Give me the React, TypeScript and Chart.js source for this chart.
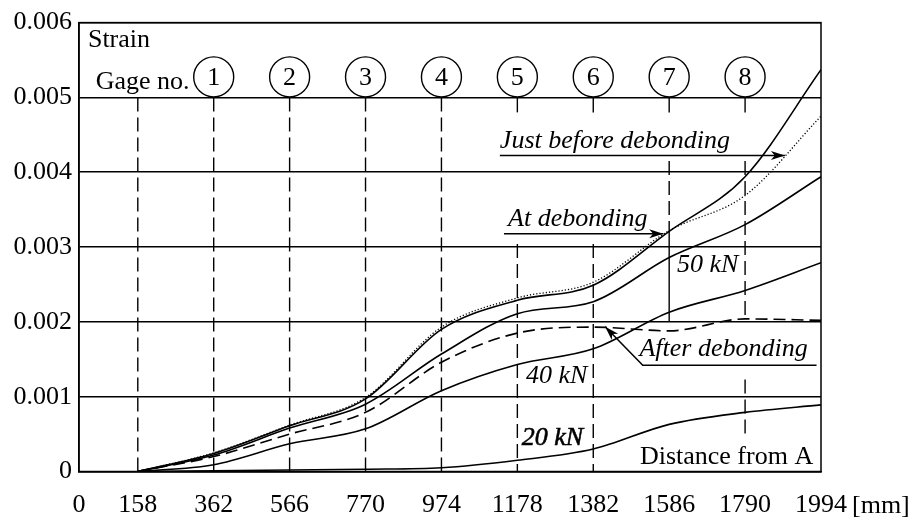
import React, { useEffect, useRef } from "react";
import { Chart, registerables } from "chart.js";

Chart.register(...registerables);

// Gage locations along the member (mm from A) and the axis ticks
const gagePositions = [158, 362, 566, 770, 974, 1178, 1382, 1586, 1790, 1994];
const xTickValues = [0, 158, 362, 566, 770, 974, 1178, 1382, 1586, 1790, 1994];
const yTickValues = [0, 0.001, 0.002, 0.003, 0.004, 0.005, 0.006];
const gageNumbers = [1, 2, 3, 4, 5, 6, 7, 8];
const gageNumberPositions = [362, 566, 770, 974, 1178, 1382, 1586, 1790];

// Measured strain at each gage location
const strainAtDebonding = [0, 0.00024, 0.00061, 0.00097, 0.0019, 0.00229, 0.00249, 0.00321, 0.00394, 0.00537];
const strainJustBefore = [0, 0.00025, 0.00062, 0.00099, 0.00193, 0.00232, 0.00253, 0.00322, 0.00369, 0.00475];
const strain50kN = [0, 0.00022, 0.00058, 0.0009, 0.00157, 0.00211, 0.00227, 0.00286, 0.0033, 0.00394];
const strainAfterDebonding = [0, 0.0002, 0.0005, 0.00079, 0.00146, 0.00185, 0.00193, 0.00188, 0.00204, 0.00202];
const strain40kN = [0, 0.00009, 0.00037, 0.00057, 0.00108, 0.00143, 0.00164, 0.00213, 0.00242, 0.00279];
const strain20kN = [0, 0.00001, 0.00002, 0.00003, 0.00005, 0.00015, 0.0003, 0.00063, 0.00079, 0.00089];

const FONT = "'Liberation Serif', 'Times New Roman', serif";
const FONT_SIZE = 26;

// Vertical reference lines at the gages: [x, fromStrain, toStrain, dashed]
const gageLines: [number, number, number, boolean][] = [
  [158, 0.005, 0, true],
  [362, 0.005, 0, true],
  [566, 0.005, 0, true],
  [770, 0.005, 0, true],
  [974, 0.005, 0, true],
  [1178, 0.005, 0.0048, false],
  [1178, 0.00304, 0, true],
  [1382, 0.005, 0.0048, false],
  [1382, 0.00304, 0, true],
  [1586, 0.005, 0.0048, false],
  [1586, 0.00415, 0.00321, true],
  [1586, 0.00321, 0.002, false],
  [1790, 0.005, 0.0048, false],
  [1790, 0.00415, 0.002, true],
  [1790, 0.00123, 0.00046, true],
];

function toPoints(values: number[]) {
  return values.map((y, i) => ({ x: gagePositions[i], y }));
}

function arrowHead(ctx: CanvasRenderingContext2D, fx: number, fy: number, tx: number, ty: number) {
  const a = Math.atan2(ty - fy, tx - fx);
  const len = 14;
  const half = 4.5;
  ctx.save();
  ctx.translate(tx, ty);
  ctx.rotate(a);
  ctx.beginPath();
  ctx.moveTo(0, 0);
  ctx.lineTo(-len, -half);
  ctx.lineTo(-len * 0.72, 0);
  ctx.lineTo(-len, half);
  ctx.closePath();
  ctx.fill();
  ctx.restore();
}

const decorations = {
  id: "strainDecor",
  beforeDatasetsDraw(chart: any) {
    const { ctx, chartArea } = chart;
    const xs = chart.scales.x;
    const ys = chart.scales.y;
    ctx.save();
    ctx.strokeStyle = "#000";
    ctx.lineWidth = 1.4;
    for (const [x, y0, y1, dashed] of gageLines) {
      const px = xs.getPixelForValue(x);
      ctx.setLineDash(dashed ? [14, 6] : []);
      ctx.beginPath();
      ctx.moveTo(px, ys.getPixelForValue(y0));
      ctx.lineTo(px, ys.getPixelForValue(y1));
      ctx.stroke();
    }
    ctx.setLineDash([]);
    ctx.restore();
  },
  afterDraw(chart: any) {
    const { ctx, chartArea } = chart;
    const xs = chart.scales.x;
    const ys = chart.scales.y;
    const X = (v: number) => xs.getPixelForValue(v);
    const Y = (v: number) => ys.getPixelForValue(v);
    ctx.save();
    ctx.strokeStyle = "#000";
    ctx.fillStyle = "#000";

    // frame
    ctx.lineWidth = 1.5;
    ctx.strokeRect(chartArea.left, chartArea.top, chartArea.right - chartArea.left, chartArea.bottom - chartArea.top);

    const upright = `${FONT_SIZE}px ${FONT}`;
    const italic = `italic ${FONT_SIZE}px ${FONT}`;
    ctx.textBaseline = "alphabetic";
    ctx.textAlign = "left";

    // axis captions
    ctx.font = upright;
    ctx.fillText("Strain", X(24), Y(0.00567));
    ctx.fillText("Gage no.", X(45), Y(0.005116));
    ctx.textAlign = "right";
    ctx.fillText("Distance from A", X(1973), Y(0.000099));
    ctx.textAlign = "left";
    ctx.fillText("[mm]", X(1994) + 31, chartArea.bottom + 41.5);

    // gage number circles
    ctx.lineWidth = 1.4;
    ctx.textAlign = "center";
    ctx.textBaseline = "middle";
    gageNumbers.forEach((n, i) => {
      const cx = X(gageNumberPositions[i]);
      const cy = Y(0.005274);
      ctx.beginPath();
      ctx.arc(cx, cy, 20, 0, Math.PI * 2);
      ctx.stroke();
      ctx.fillText(String(n), cx, cy + 1);
    });

    // curve labels
    ctx.textAlign = "left";
    ctx.textBaseline = "alphabetic";
    ctx.font = italic;
    ctx.fillText("Just before debonding", X(1131), Y(0.004323));
    ctx.fillText("At debonding", X(1153), Y(0.003281));
    ctx.fillText("50 kN", X(1607), Y(0.00266));
    ctx.fillText("40 kN", X(1201), Y(0.001182));
    ctx.fillText("After debonding", X(1506), Y(0.001545));
    ctx.lineWidth = 0.6;
    ctx.fillText("20 kN", X(1190), Y(0.00035));
    ctx.strokeText("20 kN", X(1190), Y(0.00035));

    // leader lines with arrows
    ctx.lineWidth = 1.5;
    const lines: [number, number, number, number][] = [
      [1131, 0.004222, 1897, 0.004222],
      [1142, 0.003179, 1570, 0.003179],
    ];
    for (const [x0, y0, x1, y1] of lines) {
      ctx.beginPath();
      ctx.moveTo(X(x0), Y(y0));
      ctx.lineTo(X(x1), Y(y1));
      ctx.stroke();
      arrowHead(ctx, X(x0), Y(y0), X(x1), Y(y1));
    }
    ctx.beginPath();
    ctx.moveTo(X(1982), Y(0.001419));
    ctx.lineTo(X(1515), Y(0.001419));
    ctx.lineTo(X(1414), Y(0.001934));
    ctx.stroke();
    arrowHead(ctx, X(1515), Y(0.001419), X(1414), Y(0.001934));

    ctx.restore();
  },
};

export default function App() {
  const canvasRef = useRef<HTMLCanvasElement>(null);

  useEffect(() => {
    const canvas = canvasRef.current;
    if (!canvas) return;
    const line = (data: number[], dash: number[], width = 1.6) => ({
      data: toPoints(data),
      borderColor: "#000",
      borderWidth: width,
      borderDash: dash,
      pointRadius: 0,
      fill: false,
      cubicInterpolationMode: "monotone" as const,
    });
    const chart = new Chart(canvas, {
      type: "line",
      data: {
        datasets: [
          { label: "20 kN", ...line(strain20kN, []) },
          { label: "40 kN", ...line(strain40kN, []) },
          { label: "After debonding", ...line(strainAfterDebonding, [12, 6]) },
          { label: "50 kN", ...line(strain50kN, []) },
          { label: "Just before debonding", ...line(strainJustBefore, [1.2, 2], 1.3) },
          { label: "At debonding", ...line(strainAtDebonding, []) },
        ],
      },
      options: {
        animation: false,
        responsive: false,
        devicePixelRatio: 1,
        layout: { padding: { left: 0, right: 93, top: 17, bottom: 0 } },
        plugins: { legend: { display: false }, tooltip: { enabled: false } },
        scales: {
          x: {
            type: "linear",
            min: 0,
            max: 1994,
            afterBuildTicks: (s: any) => {
              s.ticks = xTickValues.map((v) => ({ value: v }));
            },
            afterFit: (s: any) => {
              s.height = 49.5;
            },
            grid: { display: false, drawTicks: false },
            border: { display: true, color: "#000", width: 1.5 },
            ticks: {
              autoSkip: false,
              maxRotation: 0,
              padding: 18,
              color: "#000",
              font: { family: FONT, size: FONT_SIZE },
              callback: (v: any) => String(v),
            },
          },
          y: {
            type: "linear",
            min: 0,
            max: 0.006,
            afterBuildTicks: (s: any) => {
              s.ticks = yTickValues.map((v) => ({ value: v }));
            },
            afterFit: (s: any) => {
              s.width = 79;
            },
            grid: { color: "#000", lineWidth: 1.5, drawTicks: false },
            border: { display: true, color: "#000", width: 1.5 },
            ticks: {
              padding: 7,
              color: "#000",
              font: { family: FONT, size: FONT_SIZE },
              callback: (v: any) => (v === 0 ? "0" : Number(v).toFixed(3)),
            },
          },
        },
      },
      plugins: [decorations],
    });
    return () => chart.destroy();
  }, []);

  return (
    <div style={{ position: "fixed", left: 0, top: 0, width: 914, height: 521, background: "#fff" }}>
      <canvas ref={canvasRef} width={914} height={521} />
    </div>
  );
}
